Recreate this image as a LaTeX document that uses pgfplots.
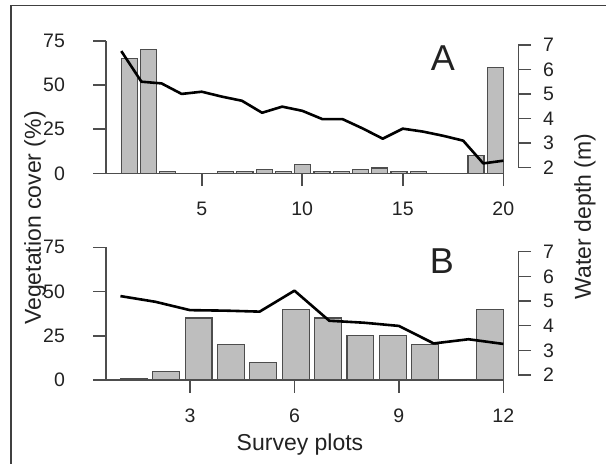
\documentclass[border=0pt]{standalone}
\usepackage{pgfplots}
\pgfplotsset{compat=1.18}
\usepackage{fontspec}
\setmainfont{Liberation Sans}
\definecolor{axgray}{HTML}{4D4D4D}
\definecolor{barfill}{HTML}{BEBEBE}
\definecolor{txt}{HTML}{222222}
\pgfplotsset{
  base/.style={scale only axis, clip=false, tick align=outside,
    major tick length=6.35pt,
    axis line style={axgray, line width=0.8pt},
    every tick/.style={axgray, line width=0.8pt},
    tick label style={font=\fontsize{9.75}{11}\selectfont, text=txt},
    /pgf/number format/assume math mode=true},
  leftax/.style={base, axis x line*=bottom, axis y line*=left,
    yticklabel style={anchor=east, inner sep=0pt, xshift=-14pt},
    xticklabel style={anchor=north, inner sep=0pt, yshift=-7.85pt},
    ymin=0, ymax=75, ytick={0,25,50,75}, width=198.65pt, height=66.3pt},
  rightax/.style={base, axis x line=none, axis y line*=right,
    ymin=2, ymax=7, ytick={2,3,4,5,6,7},
    yticklabel style={anchor=west, inner sep=0pt, xshift=5.9pt},
    width=206.15pt},
  bars/.style={ybar, bar shift=0pt, fill=barfill, draw=axgray, line width=0.6pt},
  depth/.style={black, line width=1.3pt, line join=round}
}
\begin{document}
\begin{tikzpicture}
\useasboundingbox (0,0) rectangle (303pt,231.5pt);
\draw[black!75, line width=0.9pt] (5.35pt,-5pt) -- (5.35pt,228.75pt) -- (310pt,228.75pt);
% ---------- Panel A ----------
\begin{axis}[leftax, at={(53pt,144.85pt)}, anchor=south west,
  xmin=0.239, xmax=20, xtick={5,10,15,20}]
\addplot[bars, bar width=0.79832] coordinates {
(1.3992,65) (2.3571,70) (3.3151,1) (4.2731,0) (5.2311,0) (6.1891,1) (7.1471,1)
(8.1050,2) (9.0630,1) (10.0210,5) (10.9790,1) (11.9370,1) (12.8950,2) (13.8529,3)
(14.8109,1) (15.7689,1) (16.7269,0) (17.6849,0) (18.6429,10) (19.6008,60)};
\end{axis}
\begin{axis}[rightax, at={(53pt,147.85pt)}, anchor=south west, height=61.15pt,
  xmin=0.239, xmax=20.742]
\addplot[depth] coordinates {
(1,6.75) (2,5.50) (3,5.43) (4,5.00) (5,5.09) (6,4.89) (7,4.72) (8,4.23) (9,4.48)
(10,4.31) (11,3.97) (12,3.97) (13,3.59) (14,3.17) (15,3.58) (16,3.46) (17,3.29)
(18,3.09) (19,2.16) (20,2.27)};
\end{axis}
% ---------- Panel B ----------
\begin{axis}[leftax, at={(53pt,41.5pt)}, anchor=south west, height=66.35pt,
  xmin=0.586, xmax=12, xtick={3,6,9,12}]
\addplot[bars, bar width=0.774648] coordinates {
(1.3873,1) (2.3169,5) (3.2465,35) (4.1761,20) (5.1056,10) (6.0352,40)
(6.9648,35) (7.8944,25) (8.8239,25) (9.7535,20) (10.6831,0) (11.6127,40)};
\end{axis}
\begin{axis}[rightax, at={(53pt,44pt)}, anchor=south west, height=61.65pt,
  xmin=0.586, xmax=12.43]
\addplot[depth] coordinates {
(1,5.20) (2,4.97) (3,4.63) (4,4.61) (5,4.57) (6,5.42) (7,4.20) (8,4.12)
(9,3.99) (10,3.28) (11,3.45) (12,3.26)};
\end{axis}
% ---------- labels ----------
\node[text=txt, font=\fontsize{18}{20}\selectfont] at (221.5pt,202.5pt) {A};
\node[text=txt, font=\fontsize{18}{20}\selectfont] at (221pt,100.75pt) {B};
\node[text=txt, font=\fontsize{11.5}{13}\selectfont, rotate=90] at (17.5pt,122.5pt) {Vegetation cover (\%)};
\node[text=txt, font=\fontsize{11.5}{13}\selectfont, rotate=90] at (292.5pt,123.25pt) {Water depth (m)};
\node[text=txt, font=\fontsize{11.5}{13}\selectfont, anchor=base, inner sep=0pt] at (150pt,6.5pt) {Survey plots};
\end{tikzpicture}
\end{document}
